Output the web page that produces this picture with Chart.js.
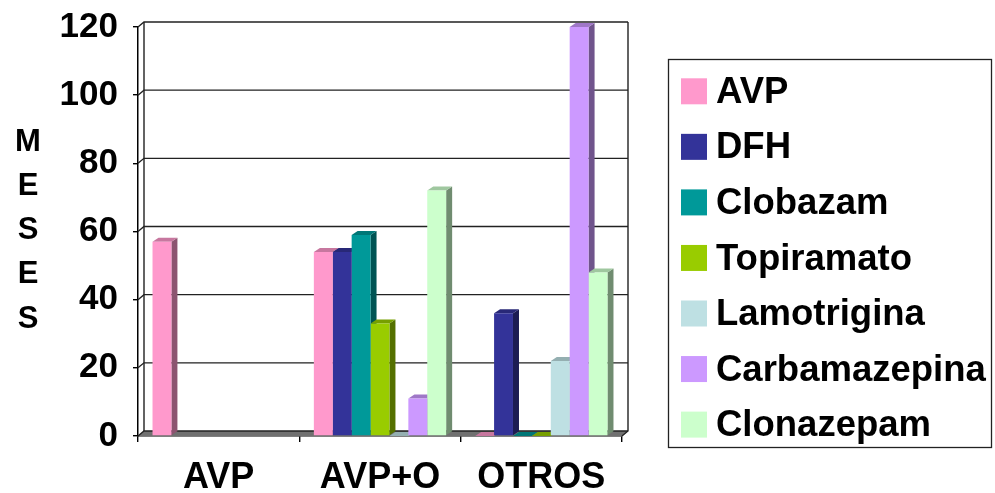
<!DOCTYPE html>
<html>
<head>
<meta charset="utf-8">
<script src="https://cdn.jsdelivr.net/npm/chart.js@4.4.1/dist/chart.umd.min.js"></script>
<style>
  html, body { margin: 0; padding: 0; background: #fff; }
  #wrap { width: 995px; height: 493px; position: relative; }
</style>
</head>
<body>
<div id="wrap"><canvas id="c" width="995" height="493"></canvas></div>
<script>
// Months of treatment per drug, grouped by therapy regime
const categories = ['AVP', 'AVP+O', 'OTROS'];
const seriesNames = ['AVP', 'DFH', 'Clobazam', 'Topiramato', 'Lamotrigina', 'Carbamazepina', 'Clonazepam'];
const avp           = [57, 54, 0];
const dfh           = [null, 54, 36];
const clobazam      = [null, 59, 0];
const topiramato    = [null, 33, 0];
const lamotrigina   = [null, 0, 22];
const carbamazepina = [null, 11, 120];
const clonazepam    = [null, 72, 48];
const yTicks = [0, 20, 40, 60, 80, 100, 120];
const axisTitle = ['M', 'E', 'S', 'E', 'S'];

const seriesValues = [avp, dfh, clobazam, topiramato, lamotrigina, carbamazepina, clonazepam];
const colors = ['#FF99CC', '#333399', '#009999', '#99CC00', '#BEE0E3', '#CC99FF', '#CCFFCC'];

const FONT = '"Liberation Sans", Arial, sans-serif';
const DX = 6, DY = 4;      // bar depth offset
const WDX = 6, WDY = 5;    // wall depth offset

function shade(hex, f) {
  const n = parseInt(hex.slice(1), 16);
  const r = Math.round(((n >> 16) & 255) * f);
  const g = Math.round(((n >> 8) & 255) * f);
  const b = Math.round((n & 255) * f);
  return `rgb(${r},${g},${b})`;
}

// Back wall, side wall and floor behind the bars
const wallPlugin = {
  id: 'wall',
  beforeDatasetsDraw(chart) {
    const { ctx, chartArea: a, scales: { y } } = chart;
    ctx.save();
    // floor
    ctx.fillStyle = '#707070';
    ctx.beginPath();
    ctx.moveTo(a.left, a.bottom);
    ctx.lineTo(a.right, a.bottom);
    ctx.lineTo(a.right + WDX, a.bottom - WDY);
    ctx.lineTo(a.left + WDX, a.bottom - WDY);
    ctx.closePath();
    ctx.fill();
    ctx.strokeStyle = '#222';
    ctx.lineWidth = 1.4;
    // gridlines on back wall + connectors on side wall
    yTicks.forEach(v => {
      const py = y.getPixelForValue(v);
      ctx.beginPath();
      ctx.moveTo(a.left, py);
      ctx.lineTo(a.left + WDX, py - WDY);
      ctx.lineTo(a.right + WDX, py - WDY);
      ctx.stroke();
    });
    // wall edges
    ctx.beginPath();
    ctx.moveTo(a.left + WDX, a.top - WDY);
    ctx.lineTo(a.left + WDX, a.bottom - WDY);
    ctx.moveTo(a.right + WDX, a.top - WDY);
    ctx.lineTo(a.right + WDX, a.bottom - WDY);
    ctx.lineTo(a.right, a.bottom);
    ctx.stroke();

    // side and top faces of every bar (fronts are drawn by Chart.js afterwards)
    chart.data.datasets.forEach((ds, di) => {
      const meta = chart.getDatasetMeta(di);
      meta.data.forEach((el, i) => {
        if (ds.data[i] === null || ds.data[i] === undefined) return;
        const { x, y: top, base, width } = el.getProps(['x', 'y', 'base', 'width'], true);
        const L = x - width / 2, R = x + width / 2;
        const col = colors[di];
        // side
        ctx.fillStyle = shade(col, 0.55);
        ctx.beginPath();
        ctx.moveTo(R, top);
        ctx.lineTo(R + DX, top - DY);
        ctx.lineTo(R + DX, base - DY);
        ctx.lineTo(R, base);
        ctx.closePath();
        ctx.fill();
        // top
        ctx.fillStyle = shade(col, 0.78);
        ctx.beginPath();
        ctx.moveTo(L, top);
        ctx.lineTo(R, top);
        ctx.lineTo(R + DX, top - DY);
        ctx.lineTo(L + DX, top - DY);
        ctx.closePath();
        ctx.fill();
      });
    });
    ctx.restore();
  }
};

// Vertical axis title and framed legend
const decorPlugin = {
  id: 'decor',
  afterDraw(chart) {
    const { ctx } = chart;
    ctx.save();
    ctx.fillStyle = '#000';
    ctx.textAlign = 'center';
    ctx.textBaseline = 'middle';
    ctx.font = `bold 31px ${FONT}`;
    axisTitle.forEach((ch, i) => ctx.fillText(ch, 28, 142 + i * 44.3));

    // legend frame
    ctx.strokeStyle = '#222';
    ctx.lineWidth = 1.3;
    ctx.strokeRect(668.5, 59.5, 323, 388);
    ctx.font = `bold 36.5px ${FONT}`;
    ctx.textAlign = 'left';
    chart.data.datasets.forEach((ds, i) => {
      const cy = 91.3 + i * 55.55;
      ctx.fillStyle = colors[i];
      ctx.fillRect(681, cy - 13, 26, 26);
      ctx.fillStyle = '#000';
      ctx.fillText(ds.label, 716, cy + 1.5);
    });
    ctx.restore();
  }
};

const datasets = seriesNames.map((name, i) => ({
  label: name,
  data: seriesValues[i],
  backgroundColor: colors[i],
  borderWidth: 0,
  categoryPercentage: 0.82,
  barPercentage: 1.0
}));

new Chart(document.getElementById('c'), {
  type: 'bar',
  data: { labels: categories, datasets },
  plugins: [wallPlugin, decorPlugin],
  options: {
    responsive: false,
    animation: false,
    devicePixelRatio: 1,
    layout: { padding: { top: 27, right: 373, bottom: 0, left: 0 } },
    plugins: { legend: { display: false }, tooltip: { enabled: false } },
    scales: {
      x: {
        afterFit(s) { s.height = 57; s.paddingLeft = 0; s.paddingRight = 0; },
        grid: { display: true, drawOnChartArea: false, drawTicks: true, tickLength: 6, color: '#000', lineWidth: 1.4, offset: true },
        border: { display: true, color: '#000', width: 1.5 },
        ticks: { color: '#000', font: { family: FONT, size: 36, weight: 'bold' }, padding: 14 }
      },
      y: {
        min: 0, max: 120,
        afterFit(s) { s.width = 138; s.paddingTop = 0; s.paddingBottom = 0; },
        afterBuildTicks(s) { s.ticks = yTicks.map(v => ({ value: v })); },
        grid: { display: true, drawOnChartArea: false, drawTicks: true, tickLength: 5, color: '#000', lineWidth: 1.4 },
        border: { display: true, color: '#000', width: 1.5 },
        ticks: { color: '#000', font: { family: FONT, size: 35, weight: 'bold' }, padding: 15 }
      }
    }
  }
});
</script>
</body>
</html>
